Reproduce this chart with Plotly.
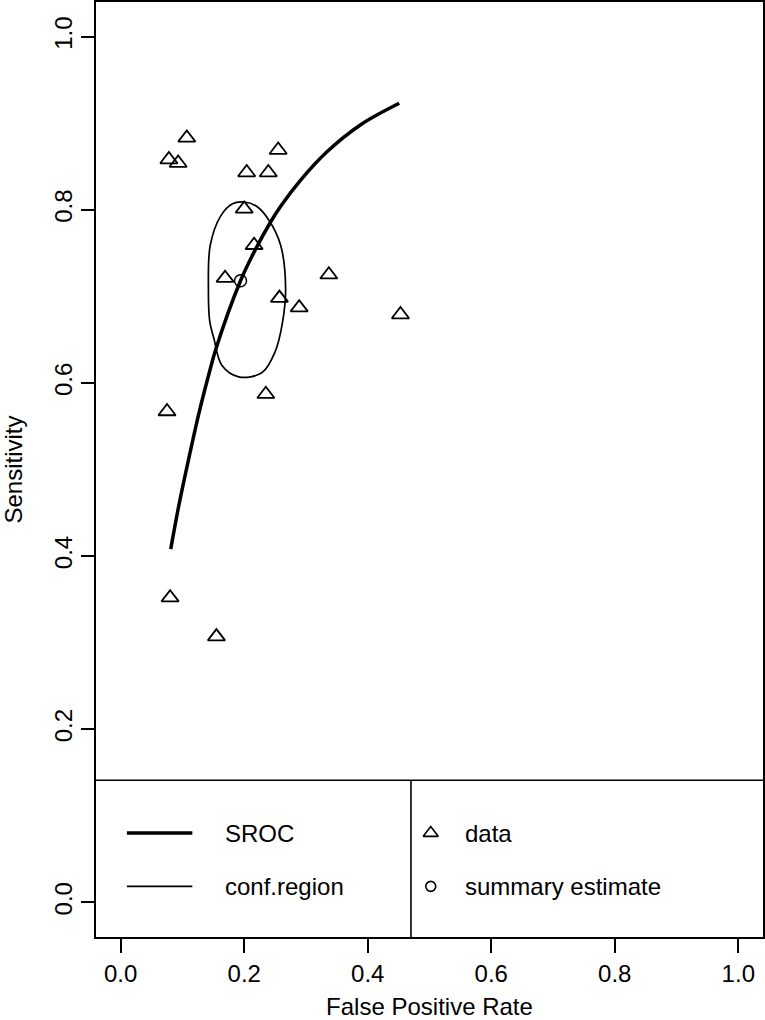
import plotly.graph_objects as go

# ---- data ----
data_fpr = [0.107, 0.078, 0.093, 0.255, 0.204, 0.239, 0.200, 0.216, 0.169, 0.337,
            0.257, 0.289, 0.453, 0.235, 0.075, 0.080, 0.155]
data_sens = [0.883, 0.858, 0.854, 0.869, 0.843, 0.843, 0.801, 0.759, 0.721, 0.725,
             0.698, 0.687, 0.679, 0.587, 0.567, 0.352, 0.307]

summary_fpr = [0.194]
summary_sens = [0.718]

sroc_fpr = [0.081, 0.094, 0.110, 0.127, 0.145, 0.154, 0.194, 0.218, 0.242, 0.259,
            0.291, 0.334, 0.388, 0.451]
sroc_sens = [0.408, 0.458, 0.512, 0.566, 0.616, 0.639, 0.718, 0.754, 0.785, 0.804,
             0.834, 0.867, 0.898, 0.923]

conf_fpr = [0.200, 0.220, 0.240, 0.259, 0.267, 0.262, 0.250, 0.229, 0.191, 0.164,
            0.151, 0.144, 0.142, 0.145, 0.162, 0.181, 0.200]
conf_sens = [0.809, 0.804, 0.788, 0.759, 0.709, 0.670, 0.636, 0.612, 0.607, 0.620,
             0.651, 0.672, 0.709, 0.759, 0.793, 0.807, 0.809]

x_ticks = [0.0, 0.2, 0.4, 0.6, 0.8, 1.0]
x_ticktext = ["0.0", "0.2", "0.4", "0.6", "0.8", "1.0"]
y_ticks = [0.0, 0.2, 0.4, 0.6, 0.8, 1.0]
y_ticktext = ["0.0", "0.2", "0.4", "0.6", "0.8", "1.0"]

legend_left = ["SROC", "conf.region"]
legend_right = ["data", "summary estimate"]

FONT = "Liberation Sans, Arial, sans-serif"
FS = 24

fig = go.Figure()

fig.add_trace(go.Scatter(x=sroc_fpr, y=sroc_sens, mode="lines", line_shape="spline",
                         line=dict(color="black", width=3.5), showlegend=False))
fig.add_trace(go.Scatter(x=conf_fpr, y=conf_sens, mode="lines", line_shape="spline",
                         line=dict(color="black", width=1.7), showlegend=False))
fig.add_trace(go.Scatter(x=data_fpr, y=data_sens, mode="markers",
                         marker=dict(symbol="triangle-up-open", size=15, color="black",
                                     line=dict(width=1.8, color="black")),
                         showlegend=False))
fig.add_trace(go.Scatter(x=summary_fpr, y=summary_sens, mode="markers",
                         marker=dict(symbol="circle-open", size=12, color="black",
                                     line=dict(width=1.5, color="black")),
                         showlegend=False))

# legend box drawn inside the plot
leg_top = 0.141
div_x = 0.47
shapes = [
    dict(type="line", xref="x", yref="y", x0=-0.04, x1=1.04, y0=leg_top, y1=leg_top,
         line=dict(color="black", width=1.6)),
    dict(type="line", xref="x", yref="y", x0=div_x, x1=div_x, y0=-0.04, y1=leg_top,
         line=dict(color="black", width=1.6)),
    dict(type="line", xref="x", yref="y", x0=0.010, x1=0.116, y0=0.080, y1=0.080,
         line=dict(color="black", width=3.5)),
    dict(type="line", xref="x", yref="y", x0=0.010, x1=0.116, y0=0.0185, y1=0.0185,
         line=dict(color="black", width=1.6)),
]
fig.add_trace(go.Scatter(x=[0.502], y=[0.080], mode="markers",
                         marker=dict(symbol="triangle-up-open", size=13, color="black",
                                     line=dict(width=1.6, color="black")),
                         showlegend=False, hoverinfo="skip"))
fig.add_trace(go.Scatter(x=[0.502], y=[0.0185], mode="markers",
                         marker=dict(symbol="circle-open", size=10, color="black",
                                     line=dict(width=1.6, color="black")),
                         showlegend=False, hoverinfo="skip"))

annotations = []
for txt, yy in zip(legend_left, [0.080, 0.0185]):
    annotations.append(dict(x=0.165, y=yy, xref="x", yref="y", text=txt, showarrow=False,
                            xanchor="left", yanchor="middle",
                            font=dict(family=FONT, size=FS, color="black")))
for txt, yy in zip(legend_right, [0.080, 0.0185]):
    annotations.append(dict(x=0.555, y=yy, xref="x", yref="y", text=txt, showarrow=False,
                            xanchor="left", yanchor="middle",
                            font=dict(family=FONT, size=FS, color="black")))

fig.update_layout(
    width=765, height=1020,
    margin=dict(l=96, r=2, t=2, b=83),
    paper_bgcolor="white", plot_bgcolor="white",
    font=dict(family=FONT, size=FS, color="black"),
    shapes=shapes, annotations=annotations,
    xaxis=dict(range=[-0.04, 1.04], tickvals=x_ticks, ticktext=x_ticktext,
               ticks="outside", ticklen=14, tickwidth=1.6, tickcolor="black",
               showline=True, mirror=True, linecolor="black", linewidth=1.6,
               showgrid=False, zeroline=False, automargin=False,
               title=dict(text="False Positive Rate", standoff=16,
                          font=dict(family=FONT, size=FS))),
    yaxis=dict(range=[-0.04, 1.04], tickvals=y_ticks, ticktext=y_ticktext,
               tickangle=-90,
               ticks="outside", ticklen=13, tickwidth=1.6, tickcolor="black",
               showline=True, mirror=True, linecolor="black", linewidth=1.6,
               showgrid=False, zeroline=False, automargin=False,
               title=dict(text="Sensitivity", standoff=26,
                          font=dict(family=FONT, size=FS))),
)

fig.write_html("out.html", config={"displayModeBar": False},
               post_script="document.body.style.margin='0';")
